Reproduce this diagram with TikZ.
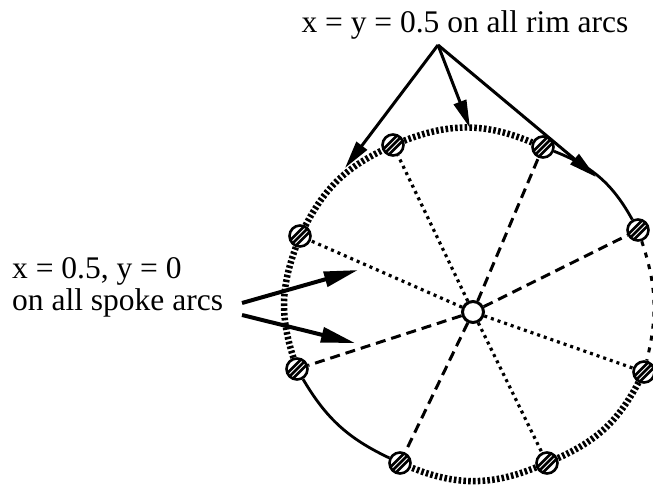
\documentclass[tikz,border=0pt]{standalone}
\usepackage{fontspec}
\setmainfont{Liberation Serif}
\usetikzlibrary{arrows.meta}
\begin{document}
\begin{tikzpicture}[x=1pt,y=-1pt,
  rimnode/.style={circle, draw, line width=2.6pt, fill=white, minimum size=21pt, inner sep=0pt,
    path picture={\foreach \o in {-5.5,0,5.5}{\draw[line width=2.6pt] ([xshift=\o pt]path picture bounding box.center) ++(-11pt,-11pt) -- ++(22pt,22pt);}}},
  hubnode/.style={circle, draw, line width=3pt, fill=white, minimum size=21pt, inner sep=0pt},
  spokedot/.style={line width=3.2pt, dash pattern=on 3pt off 4pt},
  spokedash/.style={line width=3pt, dash pattern=on 10pt off 6pt},
  rimhatch/.style={line width=6.5pt, dash pattern=on 2.6pt off 2.2pt},
  rimsolid/.style={line width=2.8pt},
  rimdash/.style={line width=3pt, dash pattern=on 5pt off 7pt},
  toparrow/.style={line width=3pt, -{Triangle[length=28pt,width=13pt]}},
  leftarrow/.style={line width=4pt, -{Triangle[length=34pt,width=15pt]}},
  lbl/.style={font=\fontsize{31.5}{32}\selectfont, inner sep=0pt}
]
\useasboundingbox (0,0) rectangle (653,487);

% nodes
\node[hubnode] (h) at (473,312) {};
\node[rimnode] (n1) at (393,145) {};
\node[rimnode] (n2) at (543,147) {};
\node[rimnode] (n3) at (638,230) {};
\node[rimnode] (n4) at (644,372) {};
\node[rimnode] (n5) at (547,463) {};
\node[rimnode] (n6) at (400,463) {};
\node[rimnode] (n7) at (297,369) {};
\node[rimnode] (n8) at (300,236) {};

% spokes
\draw[spokedot]  (h) -- (n1);
\draw[spokedash] (h) -- (n2);
\draw[spokedash] (h) -- (n3);
\draw[spokedot]  (h) -- (n4);
\draw[spokedot]  (h) -- (n5);
\draw[spokedash] (h) -- (n6);
\draw[spokedash] (h) -- (n7);
\draw[spokedot]  (h) -- (n8);

% rim arcs
\draw[rimhatch] (n1) to[bend left=22] (n2);
\draw[rimsolid] (n2) to[bend left=20] (n3);
\draw[rimdash]  (n3) to[bend left=16] (n4);
\draw[rimhatch] (n4) to[bend left=19] (n5);
\draw[rimhatch] (n5) to[bend left=22] (n6);
\draw[rimsolid] (n6) to[bend left=17] (n7);
\draw[rimhatch] (n7) to[bend left=19] (n8);
\draw[rimhatch] (n8) to[bend left=18] (n1);

% labels
\node[lbl, anchor=base] (top) at (465,33) {x = y = 0.5 on all rim arcs};
\node[lbl, anchor=base west, align=left] (left) at (12,310) {x = 0.5, y = 0\\on all spoke arcs};

% arrows
\coordinate (apex) at (438,45);
\coordinate (t1) at (345,168);
\coordinate (t2) at (470,128);
\coordinate (t3) at (596,177);
\draw[toparrow] (apex) -- (t1);
\draw[toparrow] (apex) -- (t2);
\draw[toparrow] (apex) -- (t3);

\coordinate (s1) at (242,303);
\coordinate (s2) at (242,315);
\coordinate (u1) at (358,270);
\coordinate (u2) at (355,343);
\draw[leftarrow] (s1) -- (u1);
\draw[leftarrow] (s2) -- (u2);
\end{tikzpicture}
\end{document}
